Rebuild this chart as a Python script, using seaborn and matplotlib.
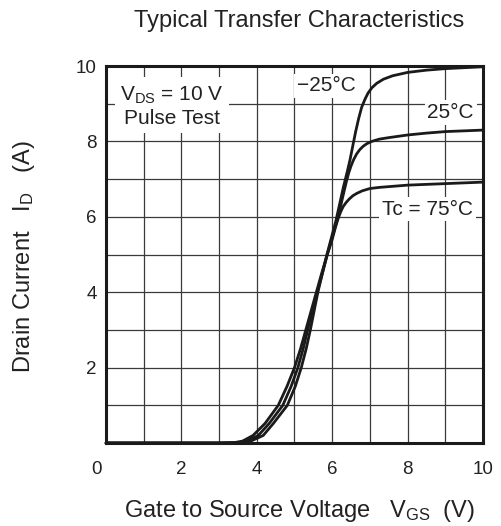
import numpy as np
import pandas as pd
import matplotlib
matplotlib.use("Agg")
import matplotlib.pyplot as plt
import matplotlib.transforms as mtransforms
import seaborn as sns

# Curvas (Vgs en V, Id en A)
vgs_m25 = [0, 3.0, 3.6, 3.84, 4.17, 4.44, 4.81, 5.02, 5.18, 5.31, 5.42, 5.52, 5.62, 5.74, 5.86, 5.98, 6.1, 6.2, 6.3, 6.4, 6.47, 6.55, 6.62, 6.7, 6.78, 6.87, 6.95, 7.05, 7.18, 7.36, 7.6, 8.0, 8.5, 9.0, 10.0]
id_m25 = [0, 0, 0.01, 0.05, 0.2, 0.52, 1.0, 1.5, 2.0, 2.5, 3.0, 3.5, 4.0, 4.5, 5.0, 5.45, 5.9, 6.35, 6.8, 7.2, 7.5, 7.9, 8.25, 8.6, 8.9, 9.12, 9.28, 9.42, 9.54, 9.65, 9.74, 9.83, 9.89, 9.93, 9.98]

vgs_25 = [0, 3.0, 3.5, 3.74, 4.04, 4.33, 4.69, 4.91, 5.09, 5.23, 5.35, 5.47, 5.6, 5.74, 5.87, 6.0, 6.1, 6.18, 6.25, 6.32, 6.38, 6.44, 6.5, 6.57, 6.65, 6.73, 6.82, 6.92, 7.05, 7.25, 7.5, 8.0, 8.5, 9.0, 10.0]
id_25 = [0, 0, 0.01, 0.05, 0.2, 0.52, 1.0, 1.5, 2.0, 2.5, 3.0, 3.5, 4.0, 4.5, 5.0, 5.45, 5.8, 6.1, 6.4, 6.7, 6.95, 7.17, 7.35, 7.52, 7.67, 7.78, 7.87, 7.94, 8.0, 8.06, 8.1, 8.17, 8.22, 8.26, 8.3]

vgs_75 = [0, 3.0, 3.4, 3.62, 3.9, 4.22, 4.57, 4.8, 5.0, 5.16, 5.3, 5.44, 5.58, 5.72, 5.87, 6.0, 6.08, 6.15, 6.22, 6.29, 6.37, 6.45, 6.55, 6.65, 6.8, 7.0, 7.25, 7.5, 8.0, 8.5, 9.0, 10.0]
id_75 = [0, 0, 0.01, 0.05, 0.2, 0.52, 1.0, 1.5, 2.0, 2.5, 3.0, 3.5, 4.0, 4.5, 5.0, 5.4, 5.7, 5.93, 6.12, 6.27, 6.38, 6.47, 6.56, 6.62, 6.69, 6.75, 6.78, 6.8, 6.84, 6.86, 6.88, 6.92]

temps = ["-25", "25", "75"]
xticks = [0, 2, 4, 6, 8, 10]
yticks = [2, 4, 6, 8, 10]

df = pd.concat([
    pd.DataFrame({"vgs": vgs_m25, "id": id_m25, "tc": "-25"}),
    pd.DataFrame({"vgs": vgs_25, "id": id_25, "tc": "25"}),
    pd.DataFrame({"vgs": vgs_75, "id": id_75, "tc": "75"}),
])

sns.set_style("white")
plt.rcParams["font.family"] = ["Liberation Sans", "DejaVu Sans"]
plt.rcParams["mathtext.fontset"] = "custom"
plt.rcParams["mathtext.rm"] = "Liberation Sans"

fig = plt.figure(figsize=(5.02, 5.26), dpi=100)
ax = fig.add_axes([106 / 502, 83 / 526, 377 / 502, 377 / 526])

sns.lineplot(data=df, x="vgs", y="id", hue="tc", hue_order=temps,
             palette=["#1a1a1a"] * 3, linewidth=2.0, sort=False,
             legend=False, ax=ax, clip_on=False, zorder=4)

ax.set_xlim(0, 10)
ax.set_ylim(0, 10)
ax.set_xticks(np.arange(0, 11, 1), minor=True)
ax.set_yticks(np.arange(0, 11, 1), minor=True)
ax.set_xticks(xticks)
ax.set_yticks(yticks)
ax.set_xticklabels([str(t) for t in xticks], fontsize=13.5, color="#222222")
ax.set_yticklabels([str(t) for t in yticks], fontsize=13.5, color="#222222")
ax.tick_params(which="both", length=0)
ax.tick_params(axis="x", pad=13)
ax.tick_params(axis="y", pad=6.5)
# el "0" queda desplazado a la izquierda como en el original
lab0 = ax.get_xticklabels()[0]
lab0.set_transform(lab0.get_transform() + mtransforms.ScaledTranslation(-9 / 100, 0, fig.dpi_scale_trans))

ax.grid(which="both", color="#3a3a3a", linewidth=0.9)
ax.set_axisbelow(True)
for s in ax.spines.values():
    s.set_visible(True)
    s.set_linewidth(2.2)
    s.set_color("#1a1a1a")
    s.set_zorder(5)

box = dict(facecolor="white", edgecolor="none", pad=2)
ax.text(1.75, 8.94, "$\\mathregular{V_{DS}}$ = 10 V\nPulse Test", ha="center", va="center",
        fontsize=15, color="#222222", linespacing=1.2,
        bbox=dict(facecolor="white", edgecolor="none", pad=4), zorder=3)
ax.text(5.84, 9.47, "\u221225\u00b0C", ha="center", va="center", fontsize=15,
        color="#222222", bbox=box, zorder=3)
ax.text(9.14, 8.77, "25\u00b0C", ha="center", va="center", fontsize=15,
        color="#222222", bbox=box, zorder=3)
ax.text(8.53, 6.2, "Tc = 75\u00b0C", ha="center", va="center", fontsize=15,
        color="#222222", bbox=box, zorder=3)

fig.text(299 / 502, 1 - 21 / 526, "Typical Transfer Characteristics", ha="center", va="center",
         fontsize=17, color="#222222")
ax.set_xlabel("Gate to Source Voltage   $\\mathregular{V_{GS}}$  (V)", fontsize=17, color="#222222")
ax.set_ylabel("Drain Current   $\\mathregular{I_D}$   (A)", fontsize=17, color="#222222")
ax.xaxis.set_label_coords(0.513, -0.146)
ax.yaxis.set_label_coords(-0.252, 0.495)
ax.xaxis.label.set_va("top")
ax.yaxis.label.set_va("top")

fig.savefig("out.png", dpi=100)
